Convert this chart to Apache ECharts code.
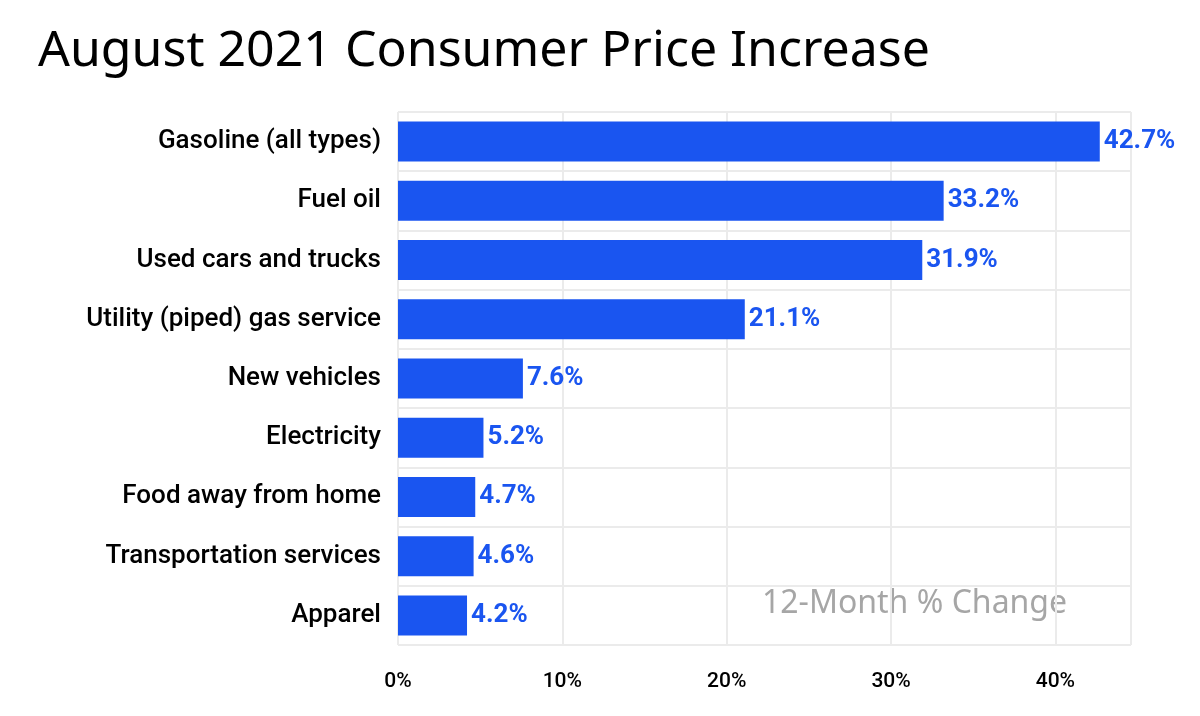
<!DOCTYPE html>
<html lang="en">
<head>
    <meta charset="UTF-8">
    <title>August 2021 Consumer Price Increase</title>
    <script src="https://cdn.jsdelivr.net/npm/echarts@6/dist/echarts.min.js"></script>
</head>
<body style="margin:0">
    <div id="main" style="width: 1200px; height: 716px;"></div>
    <script>
        const categories = ["Gasoline (all types)", "Fuel oil", "Used cars and trucks", "Utility (piped) gas service",
            "New vehicles", "Electricity", "Food away from home", "Transportation services", "Apparel"];
        const values = [42.7, 33.2, 31.9, 21.1, 7.6, 5.2, 4.7, 4.6, 4.2];
        const xTicks = [0, 10, 20, 30, 40];

        const charts = echarts.init(document.getElementById("main"));
        charts.setOption({
            animation: false,
            title: {
                text: "August 2021 Consumer Price Increase",
                left: 33, top: 22,
                textStyle: { fontFamily: "Noto Sans", fontSize: 50, fontWeight: "normal", color: "#000" }
            },
            grid: { left: 398, right: 69, top: 112, bottom: 71 },
            xAxis: {
                type: "value", min: 0, max: 44.6, interval: 10,
                axisLine: { show: false }, axisTick: { show: false },
                splitLine: { lineStyle: { color: "#ebebeb", width: 2 } },
                axisLabel: {
                    margin: 26, fontFamily: "Roboto", fontSize: 21, color: "#000", fontWeight: 500,
                    formatter: v => xTicks.includes(v) ? v + "%" : ""
                }
            },
            yAxis: {
                type: "category", inverse: true, data: categories,
                axisLine: { show: false }, axisTick: { show: false },
                splitLine: { show: true, lineStyle: { color: "#ebebeb", width: 2 } },
                axisLabel: { margin: 17, fontFamily: "Roboto", fontSize: 26, color: "#000", fontWeight: 500 }
            },
            series: [{
                type: "bar", data: values, barWidth: 40,
                itemStyle: { color: "#1a55f0" },
                label: {
                    show: true, position: "right", distance: 4,
                    formatter: p => p.value.toFixed(1) + "%",
                    fontFamily: "Roboto", fontSize: 26, fontWeight: "bold", color: "#1a55f0"
                }
            }],
            graphic: [{
                type: "text", left: 762, top: 588,
                style: { text: "12-Month % Change", font: "32px 'Noto Sans'", fill: "#a6a6a6" }
            }]
        });
    </script>
</body>
</html>
